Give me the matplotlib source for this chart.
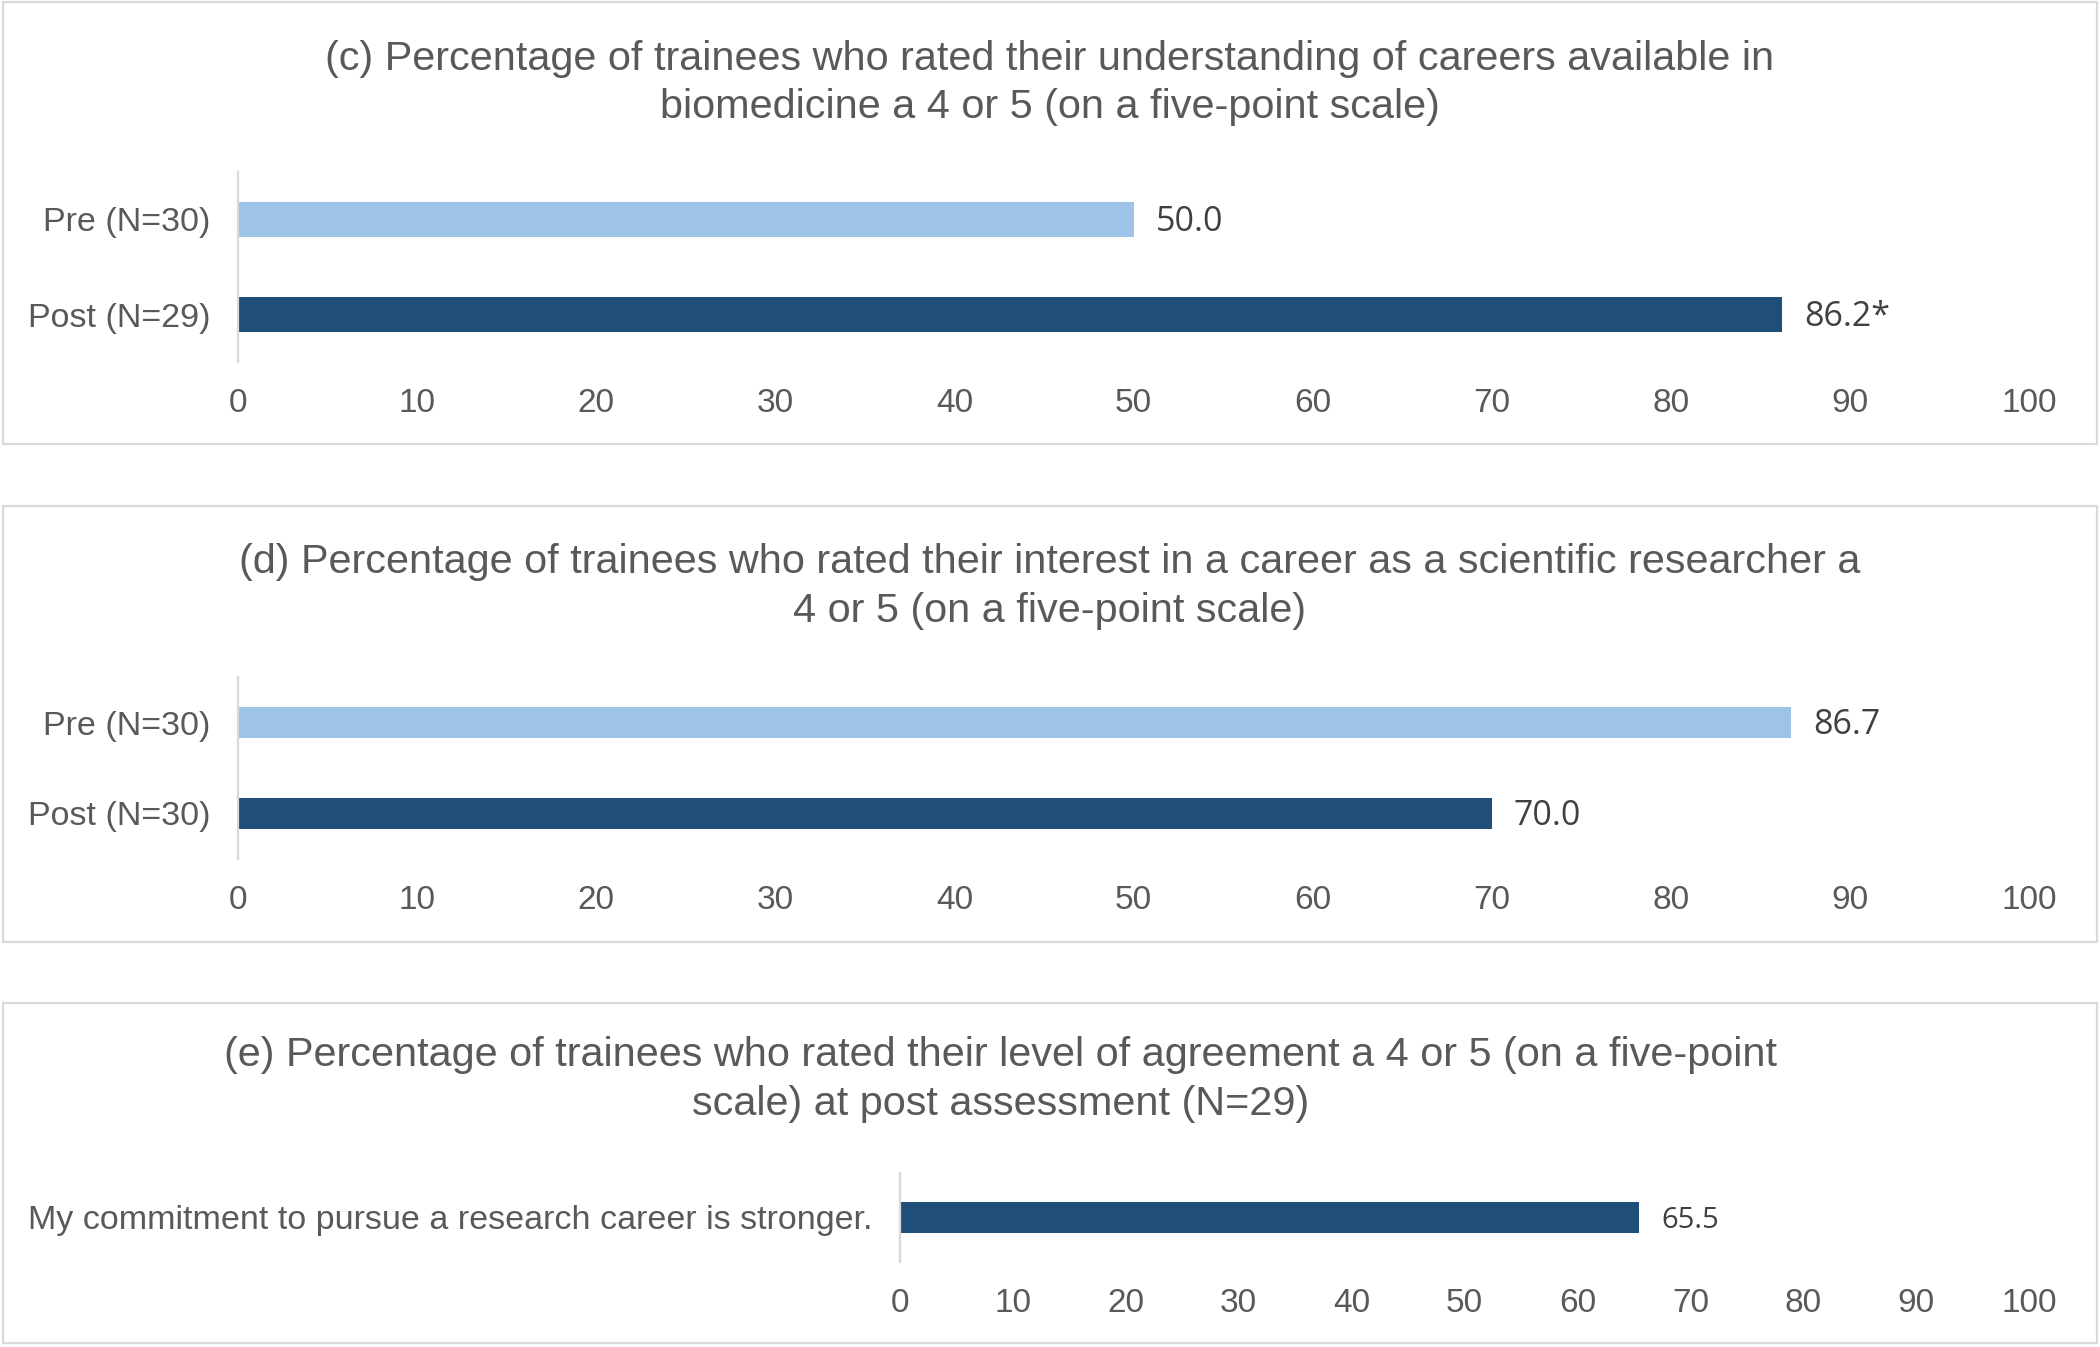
import matplotlib
matplotlib.use("Agg")
import matplotlib.pyplot as plt
from matplotlib.patches import Rectangle

W, H = 2100, 1347
DPI = 100

# data
cats_c = ["Pre (N=30)", "Post (N=29)"]
vals_c = [50.0, 86.2]
labels_c = ["50.0", "86.2*"]

cats_d = ["Pre (N=30)", "Post (N=30)"]
vals_d = [86.7, 70.0]
labels_d = ["86.7", "70.0"]

cats_e = ["My commitment to pursue a research career is stronger."]
vals_e = [65.5]
labels_e = ["65.5"]

titles_c = ["(c) Percentage of trainees who rated their understanding of careers available in",
            "biomedicine a 4 or 5 (on a five-point scale)"]
titles_d = ["(d) Percentage of trainees who rated their interest in a career as a scientific researcher a",
            "4 or 5 (on a five-point scale)"]
titles_e = ["(e) Percentage of trainees who rated their level of agreement a 4 or 5 (on a five-point",
            "scale) at post assessment (N=29)"]

xticks = list(range(0, 101, 10))

light = "#9DC3E6"
dark = "#1F4E79"
grey_txt = "#595959"
val_txt = "#404040"
line_col = "#D9D9D9"

plt.rcParams['font.family'] = ['Liberation Sans', 'DejaVu Sans']

fig = plt.figure(figsize=(W / DPI, H / DPI), dpi=DPI)


def px_axes(x0, y0, x1, y1):
    # pixel box (top-down y) -> figure axes
    return fig.add_axes([x0 / W, 1 - y1 / H, (x1 - x0) / W, (y1 - y0) / H])


def box(y0, y1):
    fig.add_artist(Rectangle((3 / W, 1 - y1 / H), (2097 - 3) / W, (y1 - y0) / H,
                             transform=fig.transFigure, fill=False,
                             edgecolor=line_col, linewidth=1.6))


def title(lines, cx, ys):
    for s, y in zip(lines, ys):
        fig.text(cx / W, 1 - y / H, s, ha='center', va='center_baseline',
                 fontsize=29.8, color=grey_txt)


def panel(ax, cats, vals, labels, colors, height, lab_size, tick_pad):
    y = list(range(len(cats)))
    ax.barh(y, vals, height=height, color=colors)
    ax.set_xlim(0, 100)
    ax.set_ylim(len(cats) - 0.5, -0.5)
    ax.set_yticks(y)
    ax.set_yticklabels(cats)
    ax.set_xticks(xticks)
    for sp in ['top', 'right', 'bottom']:
        ax.spines[sp].set_visible(False)
    ax.spines['left'].set_color(line_col)
    ax.spines['left'].set_linewidth(1.6)
    ax.tick_params(axis='y', length=0, pad=20, labelsize=24.5, labelcolor=grey_txt)
    ax.tick_params(axis='x', length=0, pad=tick_pad, labelsize=24, labelcolor=grey_txt)
    for yi, v, t in zip(y, vals, labels):
        ax.annotate(t, (v, yi), xytext=(16, -2), textcoords='offset points',
                    ha='left', va='center', fontsize=lab_size, color=val_txt,
                    family=['Open Sans', 'DejaVu Sans'])


# panel c
box(2, 444)
title(titles_c, 1050, [55, 103])
ax_c = px_axes(238, 172, 2029, 362)
panel(ax_c, cats_c, vals_c, labels_c, [light, dark], 0.36, 24.5, 19)

# panel d
box(506, 942)
title(titles_d, 1050, [558, 607])
ax_d = px_axes(238, 677, 2029, 859)
panel(ax_d, cats_d, vals_d, labels_d, [light, dark], 0.35, 24.5, 19)

# panel e
box(1003, 1343)
title(titles_e, 1001, [1051, 1100])
ax_e = px_axes(900, 1173, 2029, 1262)
panel(ax_e, cats_e, vals_e, labels_e, [dark], 0.34, 21, 19)

fig.savefig("out.png", dpi=DPI)
